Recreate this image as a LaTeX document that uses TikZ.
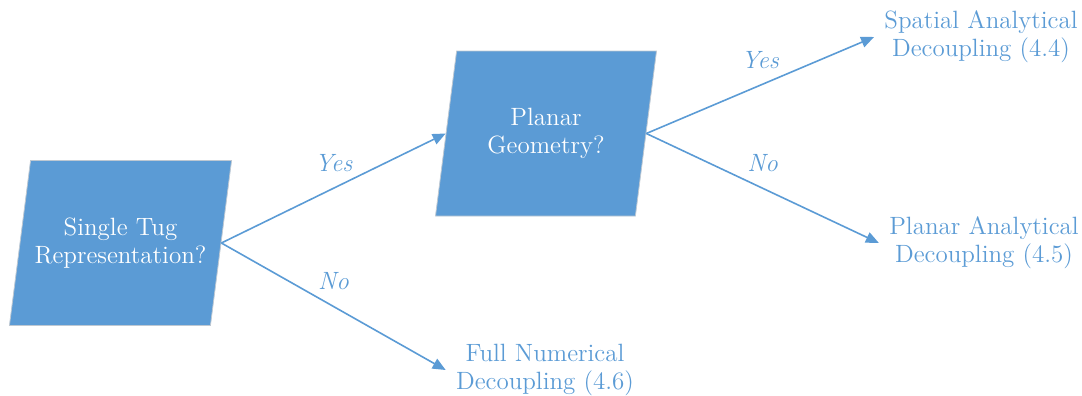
\documentclass[tikz,border=0pt]{standalone}
\usepackage{xcolor}
\usepackage{tikz}
\usetikzlibrary{
  arrows.meta,
  positioning,
  shapes.geometric
}
\definecolor{decblue}{RGB}{91,155,213}
\definecolor{rimgray}{RGB}{190,200,210}
\tikzset{
  decision/.style={trapezium,trapezium left angle=70,trapezium right angle=110,
    trapezium stretches body=true,minimum width=110.5pt,minimum height=82.5pt,
    draw=rimgray,line width=0.4pt,fill=decblue,text=white,align=center,
    inner sep=2pt,font=\fontsize{12.5}{13.8}\selectfont},
  outcome/.style={align=center,text=decblue,inner xsep=5pt,inner ysep=2pt,
    font=\fontsize{12.5}{13.8}\selectfont},
  flow/.style={-{Triangle[length=6.5pt,width=5.5pt]},line width=0.8pt,draw=decblue},
  lab/.style={font=\fontsize{12.5}{13.8}\selectfont\itshape,text=decblue,
    inner sep=1pt,above=7pt}
}

\begin{document}
\begin{tikzpicture}[x=0.5pt,y=-0.5pt]
  \useasboundingbox (0,0) rectangle (1082,396);
  \node[decision] (tug) at (120.5,243) {Single Tug\\Representation?};
  \node[decision] (planar) at (546,133.5) {Planar\\Geometry?};
  \node[outcome] (spatial) at (981,37) {Spatial Analytical\\Decoupling (4.4)};
  \node[outcome] (planardec) at (984,243) {Planar Analytical\\Decoupling (4.5)};
  \node[outcome] (full) at (545,370) {Full Numerical\\Decoupling (4.6)};
  \draw[flow] (tug.east)--node[lab]{Yes}(planar.west);
  \draw[flow] (tug.east)--node[lab]{No}(full.west);
  \draw[flow] (planar.east)--node[lab]{Yes}(spatial.west);
  \draw[flow] (planar.east)--node[lab]{No}(planardec.west);
\end{tikzpicture}
\end{document}
